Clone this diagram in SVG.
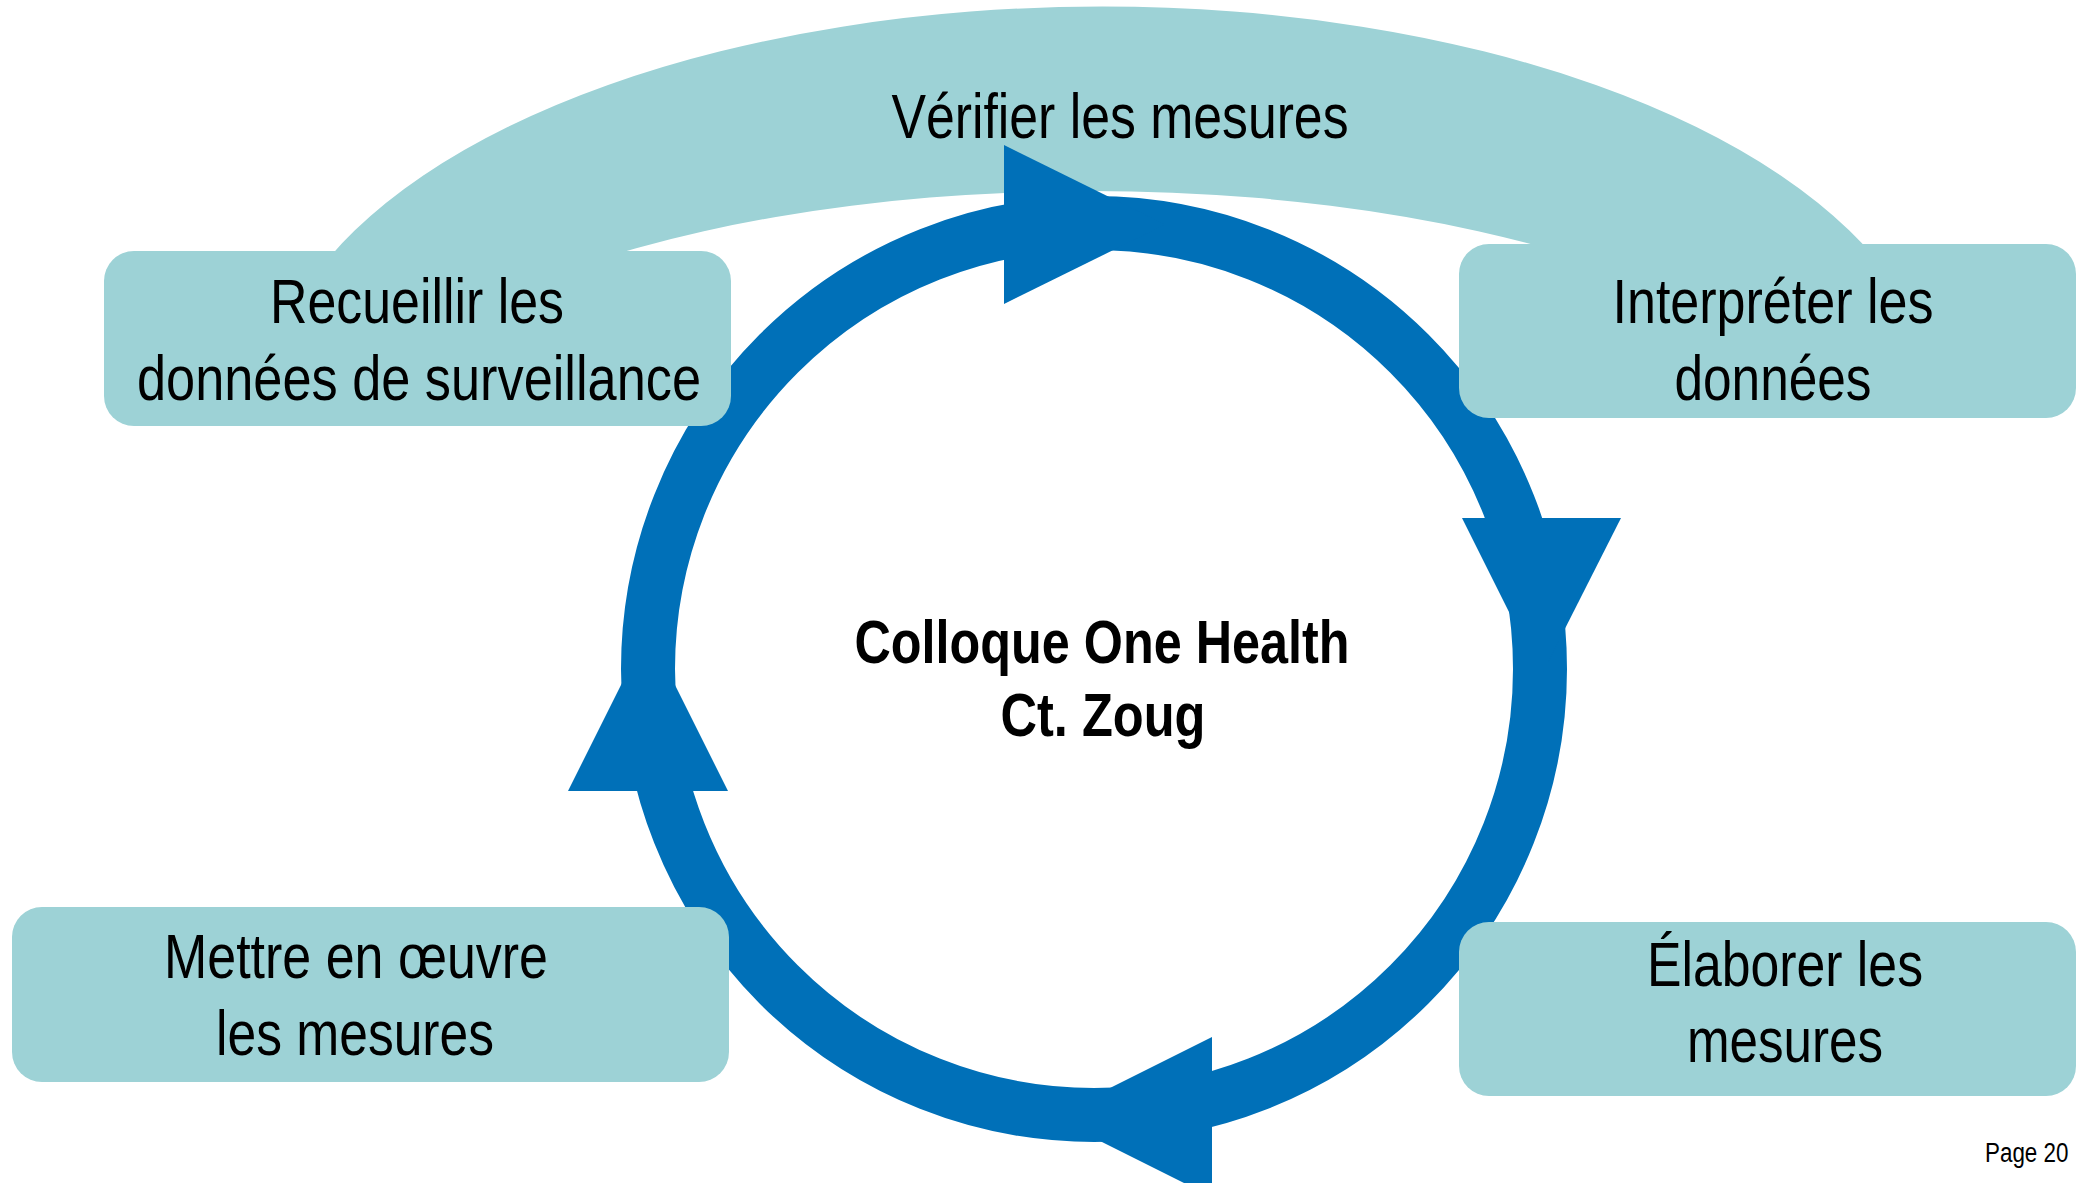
<svg xmlns="http://www.w3.org/2000/svg" width="2077" height="1183" viewBox="0 0 2077 1183">
  <style>
    .box { fill: #9DD2D6; }
    .band { fill: #9DD2D6; }
    .ring { fill: none; stroke: #0070B8; stroke-width: 54; }
    .head { fill: #0070B8; }
    .lbl { font-family: "Liberation Sans Narrow", "Arial Narrow", "Liberation Sans", Arial, sans-serif; font-size: 63px; fill: #000; text-anchor: middle; }
    .title { font-weight: bold; font-size: 62px; }
    .page { font-family: "Liberation Sans Narrow", "Arial Narrow", "Liberation Sans", Arial, sans-serif; font-size: 28px; fill: #000; }
  </style>
  <rect width="2077" height="1183" fill="#fff"/>

  <g id="connectors">
    <!-- feedback band over the top: "Vérifier les mesures" -->
    <path class="band" d="M305,290 A836,406 0 0 1 1899,290 L1665,290 A763,290 0 0 0 517,290 Z"/>
    <!-- main cycle ring -->
    <circle class="ring" cx="1094" cy="669" r="446"/>
    <!-- arrowheads, clockwise -->
    <polygon class="head" points="1004,145 1165,224.5 1004,304"/>
    <polygon class="head" points="1462,518 1621,518 1541,676"/>
    <polygon class="head" points="1212,1037 1212,1197 1052,1117"/>
    <polygon class="head" points="568,791 728,791 648,631"/>
  </g>

  <g id="verifier">
    <text class="lbl" x="1120" y="138" textLength="457" lengthAdjust="spacingAndGlyphs">Vérifier les mesures</text>
  </g>

  <g id="recueillir">
    <rect class="box" x="104" y="251" width="627" height="175" rx="30"/>
    <text class="lbl" x="417" y="323" textLength="294" lengthAdjust="spacingAndGlyphs">Recueillir les</text>
    <text class="lbl" x="419" y="400" textLength="564" lengthAdjust="spacingAndGlyphs">données de surveillance</text>
  </g>

  <g id="interpreter">
    <rect class="box" x="1459" y="244" width="617" height="174" rx="30"/>
    <text class="lbl" x="1773" y="323" textLength="321" lengthAdjust="spacingAndGlyphs">Interpréter les</text>
    <text class="lbl" x="1773" y="400" textLength="197" lengthAdjust="spacingAndGlyphs">données</text>
  </g>

  <g id="elaborer">
    <rect class="box" x="1459" y="922" width="617" height="174" rx="30"/>
    <text class="lbl" x="1785" y="986" textLength="276" lengthAdjust="spacingAndGlyphs">Élaborer les</text>
    <text class="lbl" x="1785" y="1062" textLength="196" lengthAdjust="spacingAndGlyphs">mesures</text>
  </g>

  <g id="mettre">
    <rect class="box" x="12" y="907" width="717" height="175" rx="30"/>
    <text class="lbl" x="356" y="978" textLength="384" lengthAdjust="spacingAndGlyphs">Mettre en œuvre</text>
    <text class="lbl" x="355" y="1055" textLength="278" lengthAdjust="spacingAndGlyphs">les mesures</text>
  </g>

  <g id="centre">
    <text class="lbl title" x="1102" y="663" textLength="495" lengthAdjust="spacingAndGlyphs">Colloque One Health</text>
    <text class="lbl title" x="1103" y="736" textLength="205" lengthAdjust="spacingAndGlyphs">Ct. Zoug</text>
  </g>

  <text class="page" transform="translate(1985,1162) scale(0.8,1)" x="0" y="0">Page 20</text>
</svg>
